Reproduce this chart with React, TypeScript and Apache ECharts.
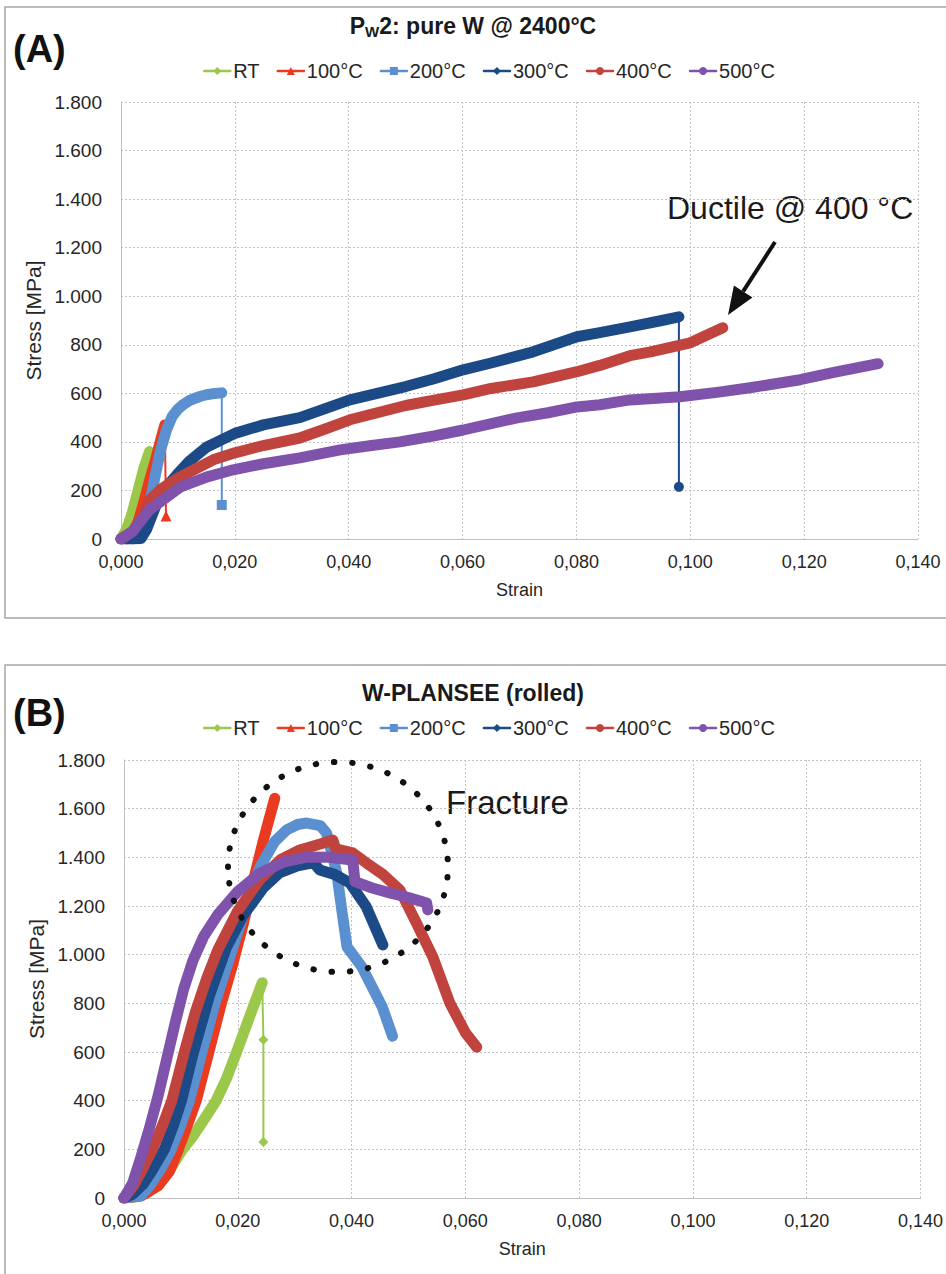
import React, { useEffect, useRef } from "react";
import * as echarts from "echarts";

// ---------- data ----------
const SERIES_NAMES = ["RT", "100°C", "200°C", "300°C", "400°C", "500°C"];
const COLORS = ["#9bc84b", "#ea3a1f", "#5a8fd0", "#1c4a87", "#c0433e", "#7f52ac"];
const SYMBOLS = ["diamond", "triangle", "rect", "diamond", "circle", "circle"];

const X_TICKS = [0, 0.02, 0.04, 0.06, 0.08, 0.1, 0.12, 0.14];
const Y_TICKS = [0, 200, 400, 600, 800, 1000, 1200, 1400, 1600, 1800];

// Panel A: P_W2 pure W @ 2400°C  [strain, stress MPa]
const A_RT = [[0, 0], [0.001, 40], [0.002, 110], [0.003, 200], [0.004, 290], [0.005, 360]];
const A_100 = [[0.001, 0], [0.002, 20], [0.003, 70], [0.004, 150], [0.005, 240], [0.006, 320], [0.007, 410], [0.0077, 470]];
const A_200 = [[0.002, 0], [0.003, 10], [0.004, 50], [0.005, 140], [0.006, 260], [0.007, 370], [0.008, 450], [0.009, 505], [0.01, 535], [0.011, 555], [0.012, 570], [0.013, 580], [0.014, 588], [0.015, 594], [0.016, 598], [0.0177, 602]];
const A_300 = [[0, 0], [0.002, 0], [0.0035, 2], [0.0045, 40], [0.0055, 100], [0.0065, 160], [0.008, 215], [0.01, 270], [0.012, 320], [0.015, 378], [0.02, 435], [0.025, 470], [0.0314, 500], [0.035, 530], [0.0402, 573], [0.045, 600], [0.05, 628], [0.055, 660], [0.0601, 697], [0.065, 725], [0.0724, 771], [0.0801, 833], [0.0841, 850], [0.0894, 874], [0.095, 900], [0.098, 915]];
const A_400 = [[0, 0], [0.002, 30], [0.004, 100], [0.005, 160], [0.007, 205], [0.0104, 256], [0.0162, 326], [0.02, 355], [0.025, 385], [0.0314, 416], [0.0355, 450], [0.0402, 491], [0.045, 520], [0.05, 550], [0.055, 572], [0.0601, 594], [0.065, 620], [0.0724, 647], [0.0801, 689], [0.0841, 715], [0.0894, 755], [0.093, 771], [0.1, 808], [0.1057, 870]];
const A_500 = [[0, 0], [0.002, 30], [0.005, 120], [0.0104, 214], [0.015, 255], [0.0197, 285], [0.025, 310], [0.0314, 334], [0.0385, 367], [0.044, 385], [0.049, 400], [0.055, 425], [0.0601, 449], [0.0696, 499], [0.075, 520], [0.0801, 544], [0.0841, 553], [0.0894, 573], [0.0982, 586], [0.105, 605], [0.1105, 623], [0.1193, 656], [0.125, 685], [0.133, 722]];
const A_DATA = [A_RT, A_100, A_200, A_300, A_400, A_500];

// post-fracture drops (panel A)
const A_100_DROP = [[0.0077, 470], [0.0079, 95]];
const A_200_DROP = [[0.0177, 602], [0.0177, 140]];
const A_300_DROP = [[0.098, 915], [0.098, 215]];

// Panel B: W-PLANSEE (rolled)
const B_RT = [[0, 0], [0.002, 5], [0.004, 20], [0.0063, 62], [0.008, 115], [0.0103, 200], [0.012, 250], [0.014, 320], [0.0162, 400], [0.018, 490], [0.0198, 600], [0.022, 740], [0.0243, 885]];
const B_100 = [[0, 0], [0.003, 8], [0.006, 50], [0.008, 110], [0.0094, 190], [0.011, 290], [0.0127, 400], [0.0147, 580], [0.017, 790], [0.0191, 960], [0.021, 1130], [0.0227, 1300], [0.0245, 1470], [0.0265, 1643]];
const B_200 = [[0, 0], [0.003, 10], [0.0045, 50], [0.0065, 120], [0.0083, 200], [0.01, 300], [0.0115, 400], [0.0136, 590], [0.016, 800], [0.019, 1020], [0.022, 1240], [0.0239, 1360], [0.0265, 1465], [0.0286, 1513], [0.0305, 1535], [0.0321, 1541], [0.0345, 1530], [0.0356, 1500], [0.0365, 1420], [0.0374, 1336], [0.0383, 1180], [0.0392, 1032], [0.0418, 950], [0.0454, 785], [0.0472, 665]];
const B_300 = [[0, 0], [0.0015, 15], [0.0033, 55], [0.005, 115], [0.0071, 200], [0.0087, 300], [0.0101, 400], [0.0121, 590], [0.015, 830], [0.018, 1030], [0.0209, 1160], [0.0245, 1275], [0.0273, 1336], [0.0305, 1365], [0.0332, 1377], [0.0338, 1365], [0.0344, 1348], [0.037, 1330], [0.0397, 1295], [0.0426, 1196], [0.0455, 1040]];
const B_400 = [[0, 0], [0.0018, 55], [0.0035, 130], [0.005, 200], [0.0068, 300], [0.0084, 400], [0.0106, 600], [0.0125, 760], [0.0145, 900], [0.0165, 1020], [0.02, 1180], [0.0239, 1310], [0.0275, 1390], [0.0309, 1430], [0.0345, 1455], [0.0367, 1471], [0.0372, 1435], [0.0402, 1418], [0.0426, 1377], [0.0455, 1330], [0.0485, 1266], [0.0514, 1130], [0.0543, 990], [0.0573, 800], [0.06, 680], [0.062, 620]];
const B_500 = [[0, 0], [0.0015, 60], [0.003, 170], [0.0045, 290], [0.006, 420], [0.0075, 570], [0.009, 720], [0.0105, 860], [0.0121, 975], [0.014, 1075], [0.0165, 1165], [0.02, 1260], [0.0239, 1335], [0.028, 1380], [0.0321, 1401], [0.036, 1400], [0.0402, 1389], [0.0406, 1300], [0.0435, 1275], [0.0467, 1254], [0.05, 1235], [0.0532, 1212], [0.0534, 1184]];
const B_DATA = [B_RT, B_100, B_200, B_300, B_400, B_500];

// post-fracture drop (panel B, RT)
const B_RT_DROP = [[0.0243, 885], [0.0245, 650], [0.0245, 230]];

const TITLE_A = "{m|P}{s|W}{m|2: pure W @ 2400°C}";
const TITLE_B = "W-PLANSEE (rolled)";

// ---------- helpers ----------
const FONT = "'Liberation Sans', Arial, Helvetica, sans-serif";
const fmtX = (v: number) => v.toFixed(3).replace(".", ",");
const fmtY = (v: number) =>
  v >= 1000 ? `${Math.floor(v / 1000)}.${String(v % 1000).padStart(3, "0")}` : String(v);

function xAxis(gridIndex: number) {
  return {
    type: "value",
    gridIndex,
    min: X_TICKS[0],
    max: X_TICKS[X_TICKS.length - 1],
    interval: X_TICKS[1] - X_TICKS[0],
    name: "Strain",
    nameLocation: "middle",
    nameGap: 42,
    nameTextStyle: { fontSize: 18, color: "#262626", fontFamily: FONT },
    axisLine: { show: true, lineStyle: { color: "#bfbfbf", width: 1 } },
    axisTick: { show: false },
    axisLabel: { formatter: fmtX, fontSize: 18, color: "#262626", fontFamily: FONT, margin: 14 },
    splitLine: { show: true, lineStyle: { type: [2, 2], color: "#c4c4c4", width: 1 } },
  };
}

function yAxis(gridIndex: number) {
  return {
    type: "value",
    gridIndex,
    min: Y_TICKS[0],
    max: Y_TICKS[Y_TICKS.length - 1],
    interval: Y_TICKS[1] - Y_TICKS[0],
    name: "Stress [MPa]",
    nameLocation: "middle",
    nameGap: 73,
    nameTextStyle: { fontSize: 21, color: "#262626", fontFamily: FONT },
    axisLine: { show: true, lineStyle: { color: "#bfbfbf", width: 1 } },
    axisTick: { show: false },
    axisLabel: { formatter: fmtY, fontSize: 19, color: "#262626", fontFamily: FONT, margin: 19 },
    splitLine: { show: true, lineStyle: { type: [2, 2], color: "#c4c4c4", width: 1 } },
  };
}

function mainSeries(panel: number, data: number[][][]) {
  return data.map((d, i) => ({
    type: "line",
    name: SERIES_NAMES[i],
    xAxisIndex: panel,
    yAxisIndex: panel,
    data: d,
    showSymbol: false,
    symbol: SYMBOLS[i],
    symbolSize: 9,
    smooth: false,
    silent: true,
    lineStyle: { width: 11, color: COLORS[i], cap: "round", join: "round" },
    itemStyle: { color: COLORS[i] },
    emphasis: { disabled: true },
    z: 2 + i,
  }));
}

function dropSeries(panel: number, idx: number, d: number[][], showFirst: boolean, size: number, symbol?: string) {
  return {
    type: "line",
    name: SERIES_NAMES[idx] + " fracture",
    xAxisIndex: panel,
    yAxisIndex: panel,
    data: d.map((p, k) => ({ value: p, symbolSize: k === 0 && !showFirst ? 0 : size })),
    symbol: symbol || SYMBOLS[idx],
    showSymbol: true,
    silent: true,
    lineStyle: { width: 2, color: COLORS[idx] },
    itemStyle: { color: COLORS[idx] },
    emphasis: { disabled: true },
    z: 2 + idx,
  };
}

function legend(top: number) {
  return {
    data: SERIES_NAMES,
    left: 198,
    top,
    itemWidth: 26,
    itemHeight: 10,
    itemGap: 17,
    selectedMode: false,
    lineStyle: { width: 2.5 },
    textStyle: { fontSize: 20, color: "#262626", fontFamily: FONT, padding: [0, 0, 0, -2] },
  };
}

export default function App() {
  const ref = useRef<HTMLDivElement>(null);

  useEffect(() => {
    if (!ref.current) return;
    const chart = echarts.init(ref.current, undefined, { renderer: "svg" });

    // arrow geometry for "Ductile" annotation
    const tail = [775, 242];
    const tip = [728, 315];
    const dx = tip[0] - tail[0];
    const dy = tip[1] - tail[1];
    const len = Math.hypot(dx, dy);
    const ux = dx / len;
    const uy = dy / len;
    const hl = 28;
    const hw = 11;
    const bx = tip[0] - ux * hl;
    const by = tip[1] - uy * hl;

    const option: any = {
      animation: false,
      backgroundColor: "#ffffff",
      title: [
        {
          text: TITLE_A,
          left: "center",
          top: 7,
          textStyle: {
            rich: {
              m: { fontSize: 23, fontWeight: "bold", color: "#1a1a1a", fontFamily: FONT },
              s: { fontSize: 15, fontWeight: "bold", color: "#1a1a1a", fontFamily: FONT, padding: [12, 0, 0, 0] },
            },
          },
        },
        {
          text: TITLE_B,
          left: "center",
          top: 676,
          textStyle: { fontSize: 23, fontWeight: "bold", color: "#1a1a1a", fontFamily: FONT },
        },
      ],
      legend: [legend(56), legend(713)],
      grid: [
        { left: 121, top: 102, width: 797, height: 437, containLabel: false },
        { left: 124, top: 760, width: 797, height: 438, containLabel: false },
      ],
      xAxis: [xAxis(0), xAxis(1)],
      yAxis: [yAxis(0), yAxis(1)],
      series: [
        ...mainSeries(0, A_DATA),
        dropSeries(0, 1, A_100_DROP, false, 11),
        dropSeries(0, 2, A_200_DROP, false, 10),
        dropSeries(0, 3, A_300_DROP, false, 10, "circle"),
        ...mainSeries(1, B_DATA),
        dropSeries(1, 0, B_RT_DROP, true, 10),
      ],
      graphic: [
        { type: "rect", shape: { x: 5, y: 7, width: 960, height: 611 }, style: { fill: "none", stroke: "#a6a6a6", lineWidth: 1.5 }, silent: true },
        { type: "rect", shape: { x: 5, y: 665, width: 960, height: 700 }, style: { fill: "none", stroke: "#a6a6a6", lineWidth: 1.5 }, silent: true },
        { type: "text", left: 13, top: 30, style: { text: "(A)", fontSize: 38, fontWeight: "bold", fill: "#111", fontFamily: FONT } },
        { type: "text", left: 13, top: 694, style: { text: "(B)", fontSize: 38, fontWeight: "bold", fill: "#111", fontFamily: FONT } },
        { type: "text", left: 667, top: 192, style: { text: "Ductile @ 400 °C", fontSize: 32, fill: "#1a1a1a", fontFamily: FONT } },
        { type: "line", shape: { x1: tail[0], y1: tail[1], x2: bx, y2: by }, style: { stroke: "#111", lineWidth: 4 }, silent: true, z: 100 },
        {
          type: "polygon",
          shape: { points: [[tip[0], tip[1]], [bx - uy * hw, by + ux * hw], [bx + uy * hw, by - ux * hw]] },
          style: { fill: "#111" },
          silent: true,
          z: 100,
        },
        { type: "text", left: 446, top: 786, style: { text: "Fracture", fontSize: 33, fill: "#1a1a1a", fontFamily: FONT } },
        {
          type: "ellipse",
          shape: { cx: 338, cy: 867, rx: 110, ry: 105 },
          style: { fill: "none", stroke: "#111", lineWidth: 6, lineDash: [0.5, 17.8], lineCap: "round" },
          silent: true,
          z: 100,
        },
      ],
    };

    chart.setOption(option);
    return () => chart.dispose();
  }, []);

  return (
    <div
      ref={ref}
      style={{ position: "absolute", left: 0, top: 0, width: 946, height: 1274, background: "#fff" }}
    />
  );
}
